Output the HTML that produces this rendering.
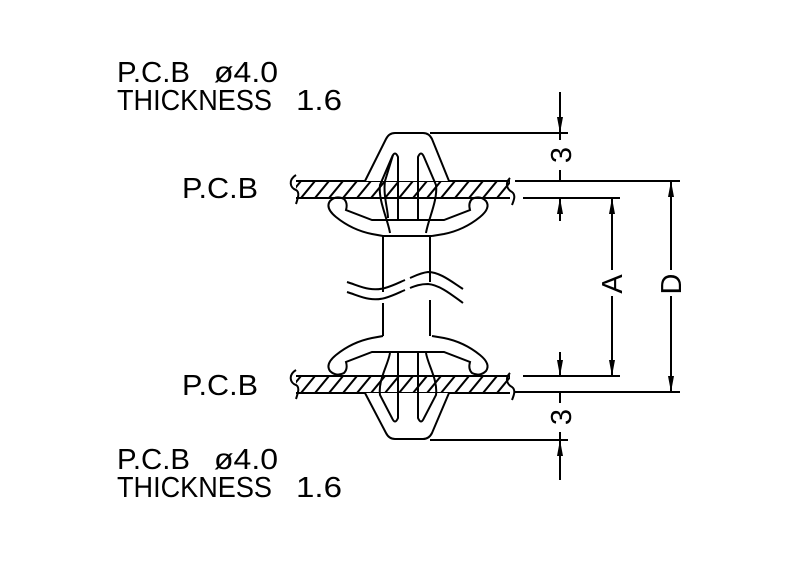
<!DOCTYPE html>
<html><head><meta charset="utf-8"><style>
html,body{margin:0;padding:0;background:#fff}
svg{display:block}
text{font-family:"Liberation Sans",sans-serif;font-size:29px;fill:#000}
</style></head><body>
<svg width="800" height="576" viewBox="0 0 800 576" xmlns="http://www.w3.org/2000/svg">
<defs>
<pattern id="h" width="14" height="17" patternUnits="userSpaceOnUse" patternTransform="translate(0,181)">
<path d="M-7,17 L7,0 M7,17 L21,0" stroke="#000" stroke-width="2"/>
</pattern>
<pattern id="h2" width="14" height="17" patternUnits="userSpaceOnUse" patternTransform="translate(0,376)">
<path d="M-7,17 L7,0 M7,17 L21,0" stroke="#000" stroke-width="2"/>
</pattern>
<marker id="ar" viewBox="0 0 16 6" refX="16" refY="3" markerWidth="16" markerHeight="6" markerUnits="userSpaceOnUse" orient="auto">
<path d="M0,0 L16,3 L0,6 z" fill="#000"/>
</marker>
</defs>
<g text-rendering="geometricPrecision">
<text x="117" y="82" textLength="73" lengthAdjust="spacingAndGlyphs">P.C.B</text>
<text x="214" y="82" textLength="64" lengthAdjust="spacingAndGlyphs">ø4.0</text>
<text x="117" y="110" textLength="155" lengthAdjust="spacingAndGlyphs">THICKNESS</text>
<text x="296" y="110" textLength="46" lengthAdjust="spacingAndGlyphs">1.6</text>
<text x="182" y="198" textLength="76" lengthAdjust="spacingAndGlyphs">P.C.B</text>
<text x="182" y="395" textLength="76" lengthAdjust="spacingAndGlyphs">P.C.B</text>
<text x="117" y="469" textLength="73" lengthAdjust="spacingAndGlyphs">P.C.B</text>
<text x="214" y="469" textLength="64" lengthAdjust="spacingAndGlyphs">ø4.0</text>
<text x="117" y="497" textLength="155" lengthAdjust="spacingAndGlyphs">THICKNESS</text>
<text x="296" y="497" textLength="46" lengthAdjust="spacingAndGlyphs">1.6</text>
</g>
<g fill="none" stroke="#000" stroke-width="2">
<rect x="296" y="181" width="214" height="17" fill="url(#h)" stroke="none"/>
<path d="M296,181 H510 M296,198 H510"/>
<path d="M296,175 C288,180 290,188 296,190 C300,192 298,198 296,204"/>
<path d="M510,178 C504,184 508,190 512,192 C516,195 514,200 512,205"/>
<rect x="296" y="376" width="214" height="17" fill="url(#h2)" stroke="none"/>
<path d="M296,376 H510 M296,393 H510"/>
<path d="M296,370 C288,375 290,383 296,385 C300,387 298,393 296,399"/>
<path d="M510,373 C504,379 508,385 512,387 C516,390 514,395 512,400"/>

<path d="M365,181 L386,139 Q389,133 395,133 H423 Q429,133 432,139 L449,181" fill="#fff"/>
<path d="M390,233 C388,220 378,200 380,185 L392,157 Q395,150 398,157 V220"/>
<path d="M426,233 C428,220 438,200 436,185 L424,157 Q421,150 418,157 V220"/>
<path d="M393,155 L385,181 C383,195 388,210 388,218"/>
<path d="M383,236 L372,234 Q352,230 336,217 Q325,208 330,201 Q336,195 344,199 Q348,203 346,210 L372,220 L380,220"/>
<path d="M432,236 L444,234 Q464,230 480,217 Q491,208 486,201 Q480,195 472,199 Q468,203 470,210 L444,220 L436,220"/>
<path d="M380,220 H436"/>
<path d="M383,236 H432 M383,236 V292 M383,303 V336 M430,236 V282 M430,300 V336"/>
<path d="M347,282 C360,286 370,292 385,288 C395,285 400,282 405,280 M410,278 C415,276 420,273 428,272 C440,272 452,282 463,289"/>
<path d="M347,292 C360,296 370,302 385,298 C395,295 400,292 405,290 M410,288 C415,286 420,284 428,284 C440,285 452,295 463,303"/>
<path d="M383,336 L372,338 Q352,342 336,355 Q325,364 330,371 Q336,377 344,373 Q348,369 346,362 L372,352 L380,352"/>
<path d="M432,336 L444,338 Q464,342 480,355 Q491,364 486,371 Q480,377 472,373 Q468,369 470,362 L444,352 L436,352"/>
<path d="M380,352 H436"/>
<path d="M365,393 L386,433 Q389,439 395,439 H423 Q429,439 432,433 L449,393" fill="#fff"/>
<path d="M390,353 C388,365 378,380 380,395 L392,418 Q395,425 398,418 V352"/>
<path d="M426,353 C428,365 438,380 436,395 L424,418 Q421,425 418,418 V352"/>

<path d="M430,133 H568 M515,181 H680 M523,198 H620 M523,376 H620 M515,392 H680 M430,440 H568"/>
<path d="M560,92 V133" marker-end="url(#ar)"/>
<path d="M560,133 V140 M560,170 V181"/>
<path d="M560,221 V198" marker-end="url(#ar)"/>
<path d="M612,270 V198" marker-end="url(#ar)"/>
<path d="M612,296 V376" marker-end="url(#ar)"/>
<path d="M671,270 V181" marker-end="url(#ar)"/>
<path d="M671,296 V392" marker-end="url(#ar)"/>
<path d="M560,352 V376" marker-end="url(#ar)"/>
<path d="M560,392 V403 M560,432 V440"/>
<path d="M560,480 V440" marker-end="url(#ar)"/>
</g>
<g text-rendering="geometricPrecision" style="font-size:24px">
<text transform="translate(571,155) rotate(-90)" text-anchor="middle">3</text>
<text transform="translate(571,417) rotate(-90)" text-anchor="middle">3</text>
<text transform="translate(622,284) rotate(-90)" text-anchor="middle">A</text>
<text transform="translate(681,284) rotate(-90)" text-anchor="middle">D</text>
</g>
</svg>
</body></html>
